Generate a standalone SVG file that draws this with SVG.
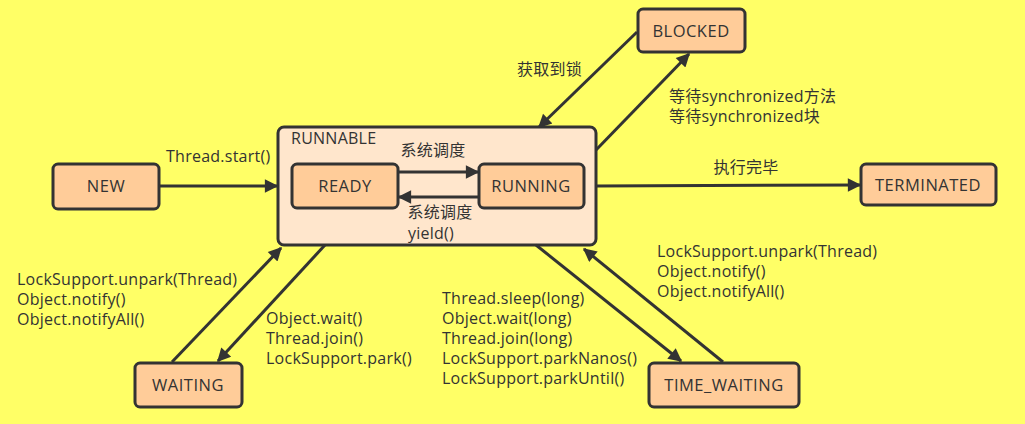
<svg xmlns="http://www.w3.org/2000/svg" width="1025" height="424" viewBox="0 0 1025 424">
<style>
.n{fill:#FFCC99;stroke:#333;stroke-width:3}
.c{fill:#FFE6CC;stroke:#333;stroke-width:3}
.t{font-family:"Open Sans","Noto Sans CJK SC",sans-serif;font-size:16px;letter-spacing:0.25px;fill:#333}
.k{font-size:16.5px;letter-spacing:0.5px}
.m{text-anchor:middle}
.e{stroke:#333;stroke-width:3;fill:none;marker-end:url(#a)}
</style>
<defs>
<marker id="a" viewBox="0 0 10 10" refX="9" refY="5" markerWidth="5.5" markerHeight="4.5" markerUnits="strokeWidth" orient="auto">
<path d="M0,0 L10,5 L0,10 Z" fill="#333"/>
</marker>
</defs>
<rect width="1025" height="424" fill="#FFFF66"/>
<g id="runnable">
<rect class="c" x="278" y="127" width="318" height="118" rx="6"/>
<text class="t" x="291" y="144">RUNNABLE</text>
</g>
<g id="new"><rect class="n" x="53" y="164" width="106" height="45" rx="5"/><text class="t k m" x="106" y="192">NEW</text></g>
<g id="ready"><rect class="n" x="292" y="164" width="106" height="44" rx="5"/><text class="t k m" x="345" y="192">READY</text></g>
<g id="running"><rect class="n" x="479" y="164" width="105" height="44" rx="5"/><text class="t k m" x="531" y="192">RUNNING</text></g>
<g id="blocked"><rect class="n" x="638" y="9" width="107" height="43" rx="5"/><text class="t k m" x="691" y="37">BLOCKED</text></g>
<g id="terminated"><rect class="n" x="861" y="164" width="135" height="41" rx="5"/><text class="t k m" x="928" y="191">TERMINATED</text></g>
<g id="waiting"><rect class="n" x="135" y="363" width="107" height="44" rx="5"/><text class="t k m" x="188" y="391">WAITING</text></g>
<g id="time_waiting"><rect class="n" x="649" y="363" width="150" height="44" rx="5"/><text class="t k m" x="724" y="391">TIME_WAITING</text></g>
<g id="connectors">
<line class="e" x1="159" y1="186" x2="277" y2="186"/>
<line class="e" x1="398" y1="172" x2="478" y2="172"/>
<line class="e" x1="479" y1="197" x2="399" y2="197"/>
<line class="e" x1="637" y1="32" x2="539" y2="127"/>
<line class="e" x1="596" y1="150" x2="689" y2="54"/>
<line class="e" x1="596" y1="186" x2="860" y2="185"/>
<line class="e" x1="172" y1="362" x2="281" y2="248"/>
<line class="e" x1="325" y1="245" x2="218" y2="361"/>
<line class="e" x1="536" y1="245" x2="681" y2="361"/>
<line class="e" x1="723" y1="362" x2="584" y2="249"/>
</g>
<g id="labels">
<text class="t" x="166" y="162">Thread.start()</text>
<text class="t m" x="433" y="156">系统调度</text>
<text class="t m" x="440" y="218">系统调度</text>
<text class="t" x="408" y="239">yield()</text>
<text class="t" x="517" y="75">获取到锁</text>
<text class="t" x="669" y="102">等待synchronized方法</text>
<text class="t" x="669" y="122">等待synchronized块</text>
<text class="t m" x="746" y="173">执行完毕</text>
<text class="t" x="17" y="285">LockSupport.unpark(Thread)</text>
<text class="t" x="17" y="305">Object.notify()</text>
<text class="t" x="17" y="325">Object.notifyAll()</text>
<text class="t" x="266" y="324">Object.wait()</text>
<text class="t" x="266" y="344">Thread.join()</text>
<text class="t" x="266" y="364">LockSupport.park()</text>
<text class="t" x="442" y="304">Thread.sleep(long)</text>
<text class="t" x="442" y="324">Object.wait(long)</text>
<text class="t" x="442" y="344">Thread.join(long)</text>
<text class="t" x="442" y="364">LockSupport.parkNanos()</text>
<text class="t" x="442" y="384">LockSupport.parkUntil()</text>
<text class="t" x="657" y="257">LockSupport.unpark(Thread)</text>
<text class="t" x="657" y="277">Object.notify()</text>
<text class="t" x="657" y="297">Object.notifyAll()</text>
</g>
</svg>
